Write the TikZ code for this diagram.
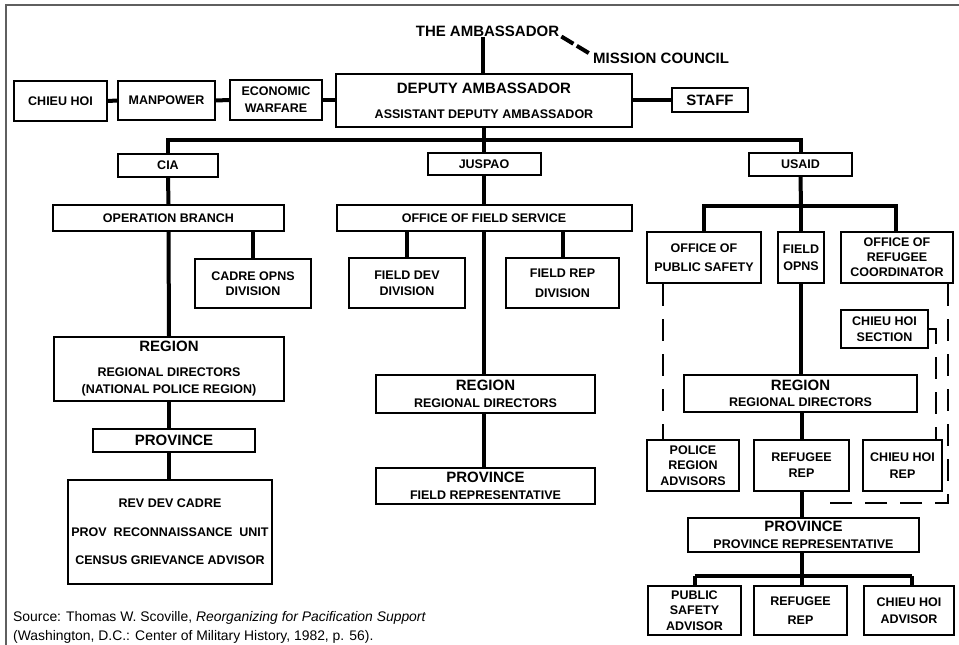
\documentclass[tikz,border=0pt]{standalone}
\usepackage{fontspec}
\setmainfont{Liberation Sans}
\definecolor{framegray}{RGB}{95,95,95}
\newcommand\bigtxt[1]{{\fontsize{15}{16}\selectfont #1}}
\tikzset{
  box/.style={draw, line width=2pt, align=center, inner sep=0pt, font=\fontsize{12.5}{16}\selectfont\bfseries},
  conn/.style={line width=4pt},
  dsh/.style={line width=2.5pt, dash pattern=on 22pt off 13pt},
  mcdash/.style={line width=4pt, dash pattern=on 14pt off 4pt},
  lbl/.style={inner sep=0pt, font=\fontsize{15}{16}\selectfont\bfseries}
}
\begin{document}
\begin{tikzpicture}[x=1pt,y=-1pt]
\useasboundingbox (0,0) rectangle (959,645);
\draw[line width=2pt, framegray] (6,645) -- (6,5) -- (959,5);

% top
\node[lbl] (amb) at (487.5,31) {THE AMBASSADOR};
\node[lbl, anchor=west] (mc) at (593,58) {MISSION COUNCIL};
\node[box, minimum width=296pt, minimum height=53pt] (dep) at (484,100.5) {\bigtxt{DEPUTY AMBASSADOR}\\[9pt]ASSISTANT DEPUTY AMBASSADOR};
\node[box, minimum width=93pt, minimum height=40pt] (chieu) at (60.5,101) {CHIEU HOI};
\node[box, minimum width=97pt, minimum height=39pt] (manp) at (166.5,100.5) {MANPOWER};
\node[box, minimum width=92pt, minimum height=40pt] (econ) at (276,100) {ECONOMIC\\[1pt]WARFARE};
\node[box, minimum width=76pt, minimum height=24pt] (staff) at (710,100) {\bigtxt{STAFF}};

% level 2
\node[box, minimum width=100pt, minimum height=23pt] (cia) at (168,165.5) {CIA};
\node[box, minimum width=113pt, minimum height=22pt] (juspao) at (484,164) {JUSPAO};
\node[box, minimum width=103pt, minimum height=23pt] (usaid) at (800.5,164.5) {USAID};
\coordinate (bus) at (484,139.5);

% CIA branch
\node[box, minimum width=231pt, minimum height=26pt] (opbr) at (168.5,218) {OPERATION BRANCH};
\node[box, minimum width=116pt, minimum height=49pt] (cadre) at (253,283.5) {CADRE OPNS\\[-1pt]DIVISION};
\node[box, minimum width=230pt, minimum height=64pt] (regcia) at (169,369) {\bigtxt{REGION}\\[9pt]REGIONAL DIRECTORS\\[1pt](NATIONAL POLICE REGION)};
\node[box, minimum width=162pt, minimum height=23pt] (provcia) at (174,440.5) {\bigtxt{PROVINCE}};
\node[box, minimum width=204pt, minimum height=104pt] (bigcia) at (170,532) {REV DEV CADRE\\[12.5pt]PROV\ \ RECONNAISSANCE\ \ UNIT\\[12.5pt]CENSUS GRIEVANCE ADVISOR};

% JUSPAO branch
\node[box, minimum width=295pt, minimum height=26pt] (ofs) at (484,218) {OFFICE OF FIELD SERVICE};
\node[box, minimum width=116pt, minimum height=50pt] (fdev) at (407,283) {FIELD DEV\\[0pt]DIVISION};
\node[box, minimum width=113pt, minimum height=50pt] (frep) at (562.5,283) {FIELD REP\\[4pt]DIVISION};
\node[box, minimum width=219pt, minimum height=38pt] (regj) at (485.5,394) {\bigtxt{REGION}\\[1pt]REGIONAL DIRECTORS};
\node[box, minimum width=219pt, minimum height=36pt] (provj) at (485.5,486) {\bigtxt{PROVINCE}\\[1pt]FIELD REPRESENTATIVE};

% USAID branch
\coordinate (ubus) at (801,206);
\node[box, minimum width=114pt, minimum height=51pt] (ops) at (704,257.5) {OFFICE OF\\[3pt]PUBLIC SAFETY};
\node[box, minimum width=46pt, minimum height=51pt] (fopns) at (801,257.5) {FIELD\\[1pt]OPNS};
\node[box, minimum width=112pt, minimum height=51pt] (orc) at (897,257.5) {OFFICE OF\\[-1pt]REFUGEE\\[-1pt]COORDINATOR};
\node[box, minimum width=87pt, minimum height=38pt] (chs) at (884.5,329) {CHIEU HOI\\[0pt]SECTION};
\node[box, minimum width=233pt, minimum height=37pt] (regu) at (800.5,393.5) {\bigtxt{REGION}\\[0pt]REGIONAL DIRECTORS};
\node[box, minimum width=92pt, minimum height=51pt] (pra) at (693,465.5) {POLICE\\[-0.5pt]REGION\\[-0.5pt]ADVISORS};
\node[box, minimum width=95pt, minimum height=51pt] (rrep1) at (801.5,465.5) {REFUGEE\\[0pt]REP};
\node[box, minimum width=79pt, minimum height=51pt] (chrep) at (902.5,465.5) {CHIEU HOI\\[1pt]REP};
\node[box, minimum width=231pt, minimum height=34pt] (provu) at (803.5,535) {\bigtxt{PROVINCE}\\[1pt]PROVINCE REPRESENTATIVE};
\coordinate (pbus) at (802,576);
\node[box, minimum width=93pt, minimum height=49pt] (psa) at (694.5,610.5) {PUBLIC\\[-0.5pt]SAFETY\\[-0.5pt]ADVISOR};
\node[box, minimum width=93pt, minimum height=49pt] (rrep2) at (800.5,610.5) {REFUGEE\\[3pt]REP};
\node[box, minimum width=90pt, minimum height=49pt] (chadv) at (909,610.5) {CHIEU HOI\\[1pt]ADVISOR};

% source
\node[anchor=north west, inner sep=0pt, align=left, font=\fontsize{13.9}{18.3}\selectfont] (src) at (13,611.5) {Source: Thomas W. Scoville, \textit{Reorganizing for Pacification Support}\\(Washington, D.C.: Center of Military History, 1982, p. 56).};

% connectors top
\draw[conn] ([xshift=-5pt]amb.south) -- ([xshift=-5pt]amb.south |- dep.north);
\draw[mcdash] ([xshift=2pt]amb.south east) -- ([xshift=-1pt,yshift=3pt]mc.west);
\draw[conn] (chieu.east) -- (manp.west);
\draw[conn] (manp.east) -- (econ.west);
\draw[conn] (econ.east) -- (econ.east -| dep.west);
\draw[conn] (dep.east |- staff) -- (staff.west);
\draw[conn] (dep.south) -- (juspao.north);
\draw[conn] (cia.north) -- (cia.north |- bus) -- (usaid.north |- bus) -- (usaid.north);

% CIA connectors
\draw[conn] (cia.south) -- (opbr.north);
\draw[conn] (opbr.south -| cadre.north) -- (cadre.north);
\draw[conn] (opbr.south) -- (regcia.north);
\draw[conn] (regcia.south) -- (regcia.south |- provcia.north);
\draw[conn] (regcia.south |- provcia.south) -- (regcia.south |- bigcia.north);

% JUSPAO connectors
\draw[conn] (juspao.south) -- (ofs.north);
\draw[conn] (ofs.south -| fdev.north) -- (fdev.north);
\draw[conn] (ofs.south -| frep.north) -- (frep.north);
\draw[conn] (ofs.south) -- (ofs.south |- regj.north);
\draw[conn] (ofs.south |- regj.south) -- (ofs.south |- provj.north);

% USAID connectors
\draw[conn] (usaid.south) -- (ubus);
\draw[conn] (ops.north) |- (ubus) -| ([xshift=-1pt]orc.north);
\draw[conn] (ubus) -- (fopns.north);
\draw[conn] (fopns.south) -- (fopns.south |- regu.north);
\draw[conn] (rrep1.north |- regu.south) -- (rrep1.north);
\draw[conn] (rrep1.south) -- (rrep1.south |- provu.north);
\draw[conn] (provu.south -| pbus) -- (pbus);
\draw[conn] (psa.north |- pbus) -- ([xshift=3pt]chadv.north |- pbus);
\draw[conn] (psa.north |- pbus) -- (psa.north);
\draw[conn] ([xshift=3pt]chadv.north |- pbus) -- ([xshift=3pt]chadv.north);
\draw[conn] (pbus) -- (pbus |- rrep2.north);

% dashed
\draw[dsh] ([xshift=-41pt]ops.south) -- ([xshift=-41pt]ops.south |- pra.north);
\draw[dsh] ([xshift=-6pt]orc.south east) -- ([xshift=-6pt,yshift=-11pt]orc.south east |- rrep1.south) -| ([xshift=30pt]rrep1.south);
\draw[dsh] (chs.east) -- ++(7,0) coordinate (chk) -- (chk |- chrep.north);
\end{tikzpicture}
\end{document}
